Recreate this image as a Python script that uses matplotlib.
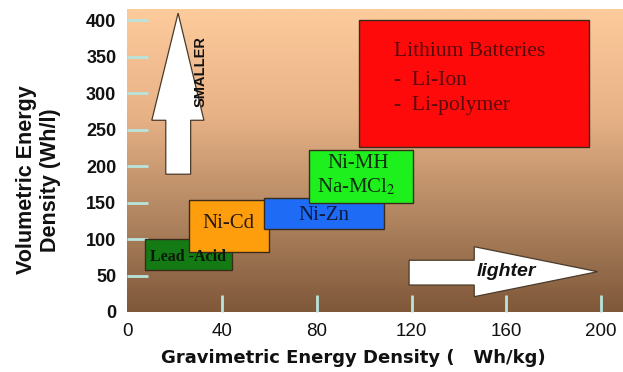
import numpy as np
import matplotlib
matplotlib.use("Agg")
import matplotlib.pyplot as plt
from matplotlib.patches import Rectangle, Polygon
from matplotlib.colors import LinearSegmentedColormap

# ---- data ----
chemistries = ["Lead -Acid", "Ni-Cd", "Ni-Zn", "Ni-MH\nNa-MCl$_2$", "Lithium"]
grav_lo = [7.3, 25.9, 57.8, 76.7, 97.6]      # Wh/kg
grav_hi = [44.3, 59.6, 108.4, 120.4, 194.9]
vol_lo = [57, 82, 114, 150, 227]             # Wh/l
vol_hi = [100, 154, 157, 222, 400]
box_colors = ["#147a14", "#ff9e0c", "#1e6cf5", "#1ef01e", "#ff0a0a"]

x_ticks = [0, 40, 80, 120, 160, 200]
y_ticks = [0, 50, 100, 150, 200, 250, 300, 350, 400]

# arrows (data coords)
up_arrow_x = [16.2, 26.7, 10.3, 21.4, 32.3]   # shaft left, shaft right, head left, tip, head right
up_arrow_y = [189, 263, 410]                  # bottom, head base, tip
right_arrow_x = [118.9, 146.4, 198.5]         # start, head base, tip
right_arrow_y = [37, 71, 21, 89.6, 55.3]      # shaft lo, shaft hi, head lo, head hi, tip

W, H = 623, 372
fig = plt.figure(figsize=(W / 100, H / 100), dpi=100)
ax = fig.add_axes([127.4 / W, (H - 312) / H, (W - 127.4) / W, 303 / H])
xmax = (W - 127.4) / 2.369
ymax = 303 / 0.729
ax.set_xlim(0, xmax)
ax.set_ylim(0, ymax)

# gradient background
cmap = LinearSegmentedColormap.from_list(
    "bg", [(0.0, "#7f583a"), (0.35, "#b68a64"), (0.65, "#e8b287"), (1.0, "#fdcb9c")])
grad = np.linspace(0, 1, 256).reshape(-1, 1)
ax.imshow(grad, aspect="auto", cmap=cmap, origin="lower",
          extent=[0, xmax, 0, ymax], zorder=0)

for s in ax.spines.values():
    s.set_visible(False)

# boxes
for lo, hi, vl, vh, c in zip(grav_lo, grav_hi, vol_lo, vol_hi, box_colors):
    ax.add_patch(Rectangle((lo, vl), hi - lo, vh - vl, facecolor=c,
                           edgecolor="#3a2a1a", linewidth=1.0, zorder=3))

serif = "Liberation Serif"
ax.text(42.6, 121.7, "Ni-Cd", fontsize=15, family=serif, color="#2a1a10",
        ha="center", va="center", zorder=4)
ax.text(83, 131.7, "Ni-Zn", fontsize=15, family=serif, color="#101a40",
        ha="center", va="center", zorder=4)
ax.text(97.3, 204, "Ni-MH", fontsize=15, family=serif, color="#103010",
        ha="center", va="center", zorder=4)
ax.text(96.5, 171, "Na-MCl$_2$", fontsize=15, family=serif, color="#103010",
        ha="center", va="center", zorder=4, math_fontfamily="stix")
ax.text(25.5, 76, "Lead -Acid", fontsize=11.5, family=serif, fontweight="bold",
        color="#0a1a0a", ha="center", va="center", zorder=4)
ax.text(112.5, 357, "Lithium Batteries", fontsize=15.5, family=serif,
        color="#5a0a0a", ha="left", va="center", zorder=4)
ax.text(112.5, 318, "-  Li-Ion", fontsize=15.5, family=serif,
        color="#5a0a0a", ha="left", va="center", zorder=4)
ax.text(112.5, 282.6, "-  Li-polymer", fontsize=15.5, family=serif,
        color="#5a0a0a", ha="left", va="center", zorder=4)

# up arrow (SMALLER)
sl, sr, hl, tip, hr = up_arrow_x
yb, yh, yt = up_arrow_y
ax.add_patch(Polygon([(sl, yb), (sr, yb), (sr, yh), (hr, yh), (tip, yt),
                      (hl, yh), (sl, yh)], closed=True, facecolor="white",
                     edgecolor="#4a3a2a", linewidth=0.9, zorder=3))
ax.text(30.8, 330, "SMALLER", rotation=90, fontsize=10.5, fontweight="bold",
        family="Liberation Sans", color="#111111", ha="center", va="center", zorder=4)

# right arrow (lighter)
xs, xh, xt = right_arrow_x
y1, y2, h1, h2, yt2 = right_arrow_y
ax.add_patch(Polygon([(xs, y1), (xs, y2), (xh, y2), (xh, h2), (xt, yt2),
                      (xh, h1), (xh, y1)], closed=True, facecolor="white",
                     edgecolor="#4a3a2a", linewidth=0.9, zorder=3))
ax.text(160, 55, "lighter", fontsize=14, fontweight="bold", fontstyle="italic",
        family="Liberation Sans", color="#111111", ha="center", va="center", zorder=4)

# ticks
ax.set_xticks(x_ticks)
ax.set_yticks(y_ticks)
ax.set_xticklabels([str(v) for v in x_ticks], fontsize=13.5, family="Liberation Sans")
ax.set_yticklabels([str(v) for v in y_ticks], fontsize=13, fontweight="bold",
                   family="Liberation Sans")
ax.tick_params(axis="x", direction="in", length=12, width=2, color="#b8e4dc",
               pad=8, labelcolor="#111111")
ax.tick_params(axis="y", direction="in", length=15, width=2, color="#b8e4dc",
               pad=8, labelcolor="#111111")
ax.xaxis.get_major_ticks()[0].tick1line.set_visible(False)
ax.yaxis.get_major_ticks()[0].tick1line.set_visible(False)

fig.text(38.5 / W, 1 - 180 / H, "Volumetric Energy\nDensity (Wh/l)", rotation=90,
         fontsize=15.5, fontweight="bold", family="Liberation Sans",
         ha="center", va="center", linespacing=1.15, color="#111111")
fig.text(353 / W, 1 - 358 / H, "Gravimetric Energy Density (   Wh/kg)",
         fontsize=13, fontweight="bold", family="DejaVu Sans",
         ha="center", va="center", color="#111111")

fig.savefig("out.png", dpi=100)
